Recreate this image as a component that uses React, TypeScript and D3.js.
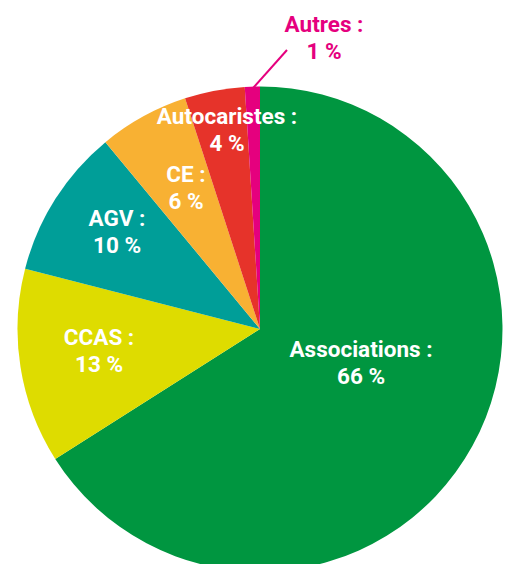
import React from "react";
import * as d3 from "d3";

const categories = ["Associations", "CCAS", "AGV", "CE", "Autocaristes", "Autres"];
const values = [66, 13, 10, 6, 4, 1];
const colors = ["#009640", "#DEDC00", "#009E98", "#F8B133", "#E6332A", "#E5007E"];

// label layout (offsets from pie center, baseline of first line)
const labelPos: [number, number][] = [
  [101, 28],
  [-161, 16],
  [-143, -103],
  [-74, -147],
  [-33, -205],
  [64, -297],
];

const W = 506;
const H = 564;
const cx = 260;
const cy = 329;
const R = 242.5;

export default function App() {
  const data = categories.map((c, i) => ({ c, v: values[i], col: colors[i] }));
  const pie = d3.pie<any>().value((d) => d.v).sort(null).startAngle(0).endAngle(2 * Math.PI);
  const arcs = pie(data);
  const arc = d3.arc<any>().innerRadius(0).outerRadius(R);
  const edgeArc = d3.arc<any>().innerRadius(R - 2).outerRadius(R - 2);
  const autres = arcs[arcs.length - 1];
  const leadStart = edgeArc.centroid(autres);
  const font = "Roboto, 'Noto Sans', sans-serif";
  return (
    <svg width={W} height={H} style={{ position: "absolute", left: 0, top: 0, display: "block" }}>
      <g transform={`translate(${cx},${cy})`}>
        {arcs.map((a, i) => (
          <path key={i} d={arc(a) as string} fill={a.data.col} />
        ))}
        <line
          x1={leadStart[0]}
          y1={leadStart[1]}
          x2={27}
          y2={-279}
          stroke={colors[5]}
          strokeWidth={2}
        />
        {arcs.map((a, i) => {
          const [x, y] = labelPos[i];
          const fill = i === arcs.length - 1 ? colors[5] : "#ffffff";
          return (
            <text
              key={"t" + i}
              x={x}
              y={y}
              textAnchor="middle"
              fill={fill}
              fontFamily={font}
              fontWeight={700}
              fontSize={22.5}
            >
              <tspan x={x}>{a.data.c} :</tspan>
              <tspan x={x} dy={26.5}>{a.data.v} %</tspan>
            </text>
          );
        })}
      </g>
    </svg>
  );
}
